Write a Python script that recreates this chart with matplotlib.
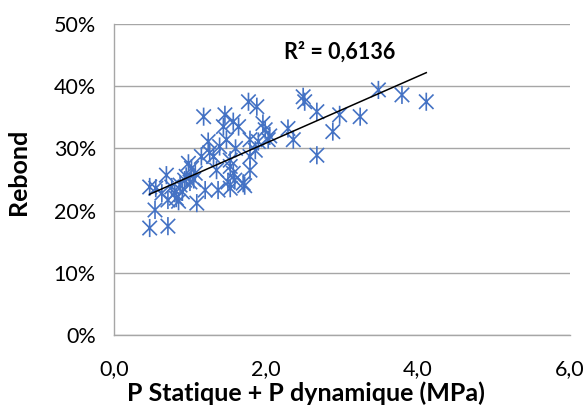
import numpy as np
import matplotlib
matplotlib.use("Agg")
import matplotlib.pyplot as plt
from matplotlib.path import Path

# Data (x: MPa, y: rebound fraction)
pressure = [0.47, 0.71, 0.54, 0.47, 0.55, 0.63, 0.69, 0.76, 0.80, 0.71, 0.82, 0.87,
            0.93, 0.98, 1.02, 1.00, 1.07, 1.09, 1.20, 1.15, 1.26, 0.90, 0.95, 1.05, 0.85,
            1.18, 1.77, 1.88, 1.46, 1.57, 1.64, 1.44, 1.96, 1.99, 1.24, 1.48, 1.79,
            1.90, 2.03, 1.31, 1.39, 1.53, 1.79, 1.86, 1.79, 1.53, 1.50, 1.57, 1.70,
            1.37, 1.53, 1.59, 1.72, 1.35, 1.60,
            2.29, 2.36, 2.49, 2.51, 2.67, 2.97, 2.88, 3.24, 2.67, 3.48, 3.79, 4.11, 2.05]
rebond = [0.172, 0.175, 0.201, 0.238, 0.236, 0.228, 0.257, 0.238, 0.228, 0.217, 0.220, 0.241,
          0.249, 0.276, 0.268, 0.246, 0.260, 0.212, 0.233, 0.287, 0.293, 0.230, 0.255, 0.250, 0.215,
          0.351, 0.375, 0.367, 0.354, 0.343, 0.335, 0.335, 0.340, 0.330, 0.311, 0.314, 0.314,
          0.311, 0.314, 0.287, 0.303, 0.281, 0.287, 0.297, 0.265, 0.271, 0.246, 0.260, 0.244,
          0.233, 0.236, 0.249, 0.240, 0.265, 0.300,
          0.332, 0.314, 0.383, 0.375, 0.359, 0.354, 0.327, 0.351, 0.289, 0.394, 0.386, 0.375, 0.320]
x_ticks = [0.0, 2.0, 4.0, 6.0]
x_tick_labels = ["0,0", "2,0", "4,0", "6,0"]
y_ticks = [0.0, 0.1, 0.2, 0.3, 0.4, 0.5]
y_tick_labels = ["0%", "10%", "20%", "30%", "40%", "50%"]
r2_label = "R² = 0,6136"

plt.rcParams['font.family'] = ['Lato', 'DejaVu Sans']

# Excel-style star marker: X plus vertical bar
star = Path([(-1, -1), (1, 1), (-1, 1), (1, -1), (0, -1.25), (0, 1.25)],
            [Path.MOVETO, Path.LINETO, Path.MOVETO, Path.LINETO, Path.MOVETO, Path.LINETO])

fig = plt.figure(figsize=(5.86, 4.05), dpi=100)
ax = fig.add_axes([0.1945, 0.1728, 0.778, 0.768])

x = np.array(pressure)
y = np.array(rebond)
ax.scatter(x, y, marker=star, s=170, facecolors='none', edgecolors='#4472C4', linewidths=1.2, zorder=3)

coef = np.polyfit(x, y, 1)
xl = np.array([x.min(), x.max()])
ax.plot(xl, np.polyval(coef, xl), color='black', linewidth=1.1, zorder=4)

ax.set_xlim(0, 6)
ax.set_ylim(0, 0.5)
ax.set_xticks(x_ticks)
ax.set_xticklabels(x_tick_labels)
ax.set_yticks(y_ticks)
ax.set_yticklabels(y_tick_labels)
ax.tick_params(axis='both', length=0, labelsize=15.5, colors='black')
ax.tick_params(axis='x', pad=17)
ax.tick_params(axis='y', pad=13)
ax.yaxis.grid(True, color='#A6A6A6', linewidth=1.0)
ax.set_axisbelow(True)
for s in ['top', 'right']:
    ax.spines[s].set_visible(False)
for s in ['left', 'bottom']:
    ax.spines[s].set_color('#A6A6A6')
    ax.spines[s].set_linewidth(1.0)

ax.set_xlabel("P Statique + P dynamique (MPa)", fontsize=18, fontweight='bold')
ax.xaxis.set_label_coords(0.42, -0.148)
ax.set_ylabel("Rebond", fontsize=18, fontweight='bold')
ax.yaxis.set_label_coords(-0.185, 0.524)
ax.text(2.97, 0.455, r2_label, fontsize=15.5, fontweight='bold', ha='center', va='center')

fig.savefig("out.png", dpi=100)
